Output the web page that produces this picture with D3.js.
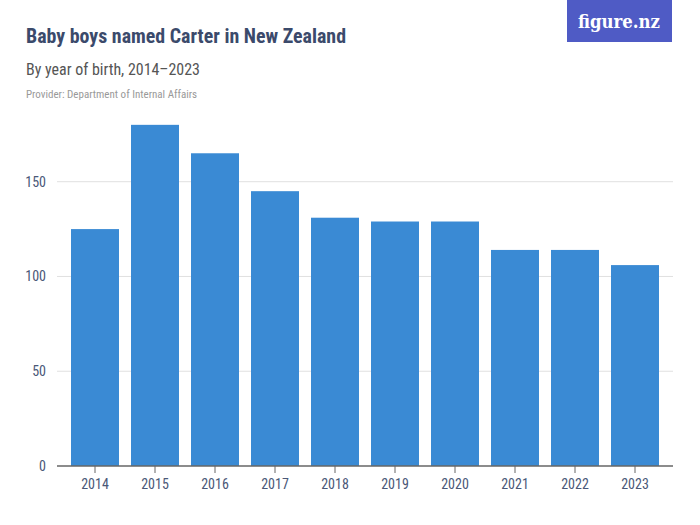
<!DOCTYPE html>
<html><head><meta charset="utf-8">
<script src="https://cdn.jsdelivr.net/npm/d3@7"></script>
<style>
body{margin:0;background:#fff;}
svg{display:block;}
.f{font-family:"Liberation Sans Narrow","Roboto Condensed",Roboto,sans-serif;}
</style></head>
<body>
<svg id="c" width="700" height="525"></svg>
<script>
const years = ["2014","2015","2016","2017","2018","2019","2020","2021","2022","2023"];
const counts = [125,180,165,145,131,129,129,114,114,106];
const yTicks = [0,50,100,150];

const svg = d3.select("#c");
const x = d3.scaleBand().domain(years).range([65,665]).paddingInner(0.2).paddingOuter(0.1);
const y = d3.scaleLinear().domain([0,150]).range([466,181.7]);

// titles
svg.append("text").attr("class","f").attr("x",26).attr("y",43)
  .attr("font-size",20).attr("font-weight","bold").attr("fill","#3b4a6b")
  .attr("textLength",320).attr("lengthAdjust","spacingAndGlyphs")
  .text("Baby boys named Carter in New Zealand");
svg.append("text").attr("class","f").attr("x",26).attr("y",75)
  .attr("font-size",17).attr("fill","#555")
  .attr("textLength",174).attr("lengthAdjust","spacingAndGlyphs")
  .text("By year of birth, 2014–2023");
svg.append("text").attr("class","f").attr("x",26).attr("y",98)
  .attr("font-size",11).attr("fill","#999")
  .text("Provider: Department of Internal Affairs");

// logo
svg.append("rect").attr("x",567).attr("y",0).attr("width",105).attr("height",42).attr("fill","#4f5bc5");
svg.append("text").attr("x",578).attr("y",28)
  .attr("font-family","'DejaVu Serif','Liberation Serif',serif").attr("font-size",19).attr("font-weight","bold")
  .attr("fill","#fff").attr("textLength",82).attr("lengthAdjust","spacingAndGlyphs").text("figure.nz");

// grid
svg.append("g").selectAll("line").data(yTicks.filter(d=>d>0)).join("line")
  .attr("x1",57).attr("x2",673).attr("y1",d=>y(d)).attr("y2",d=>y(d))
  .attr("stroke","#e0e0e0").attr("stroke-width",1);

// y labels
svg.append("g").selectAll("text").data(yTicks).join("text").attr("class","f")
  .attr("x",46).attr("y",d=>y(d)+5).attr("text-anchor","end")
  .attr("font-size",14).attr("fill","#4a5878").text(d=>d);

// bars
svg.append("g").selectAll("rect").data(counts).join("rect")
  .attr("x",(d,i)=>x(years[i])).attr("width",x.bandwidth())
  .attr("y",d=>y(d)).attr("height",d=>y(0)-y(d)).attr("fill","#3a8ad4");

// x axis
const xa = svg.append("g").attr("transform","translate(0,466)")
  .call(d3.axisBottom(x).tickSize(7).tickPadding(6));
xa.select(".domain").remove();
xa.selectAll(".tick line").attr("stroke","#666");
xa.selectAll(".tick text").attr("class","f").attr("font-size",14).attr("fill","#4a5878");
svg.append("line").attr("x1",57).attr("x2",673).attr("y1",466).attr("y2",466).attr("stroke","#666").attr("stroke-width",1.3);
</script>
</body></html>
